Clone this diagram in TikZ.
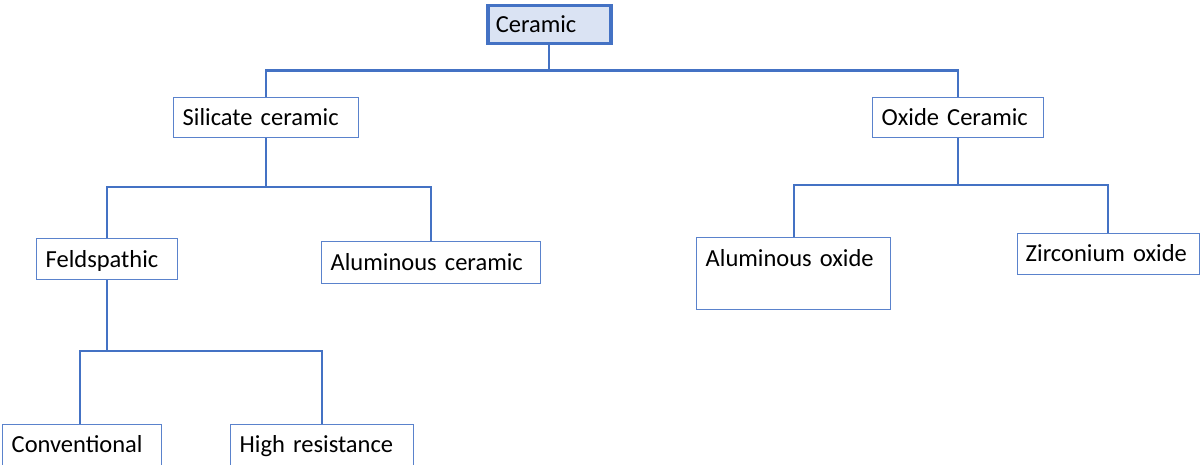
\documentclass[tikz,border=0pt]{standalone}
\usepackage{fontspec}
\setmainfont{Carlito}
\definecolor{linec}{HTML}{4472C4}
\definecolor{boxc}{HTML}{5A82CC}
\definecolor{fillc}{HTML}{DAE3F3}
\begin{document}
\begin{tikzpicture}[x=1pt,y=-1pt,
  box/.style={draw=boxc, line width=1.4pt, fill=white, anchor=north west,
    inner ysep=0pt, inner xsep=9pt, align=left, font=\fontsize{24.5}{28}\selectfont,
    text height=#1},
  box/.default=28pt,
  conn/.style={draw=linec, line width=2.4pt}]
\clip (0,0) rectangle (1200,465);
\useasboundingbox (0,0) rectangle (1200,465);
\fill[white] (0,0) rectangle (1200,465);
% nodes
\node[box=27pt, draw=linec, line width=3.5pt, fill=fillc, inner xsep=8pt, text width=107pt, text depth=11pt] (cer) at (486,4) {Ceramic};
\node[box, text width=167pt, text depth=12pt] (sil) at (173,97) {Silicate ceramic};
\node[box, text width=153pt, text depth=12pt] (oxi) at (872,97) {Oxide Ceramic};
\node[box=28.5pt, text width=123pt, text depth=12.5pt] (fel) at (36,238) {Feldspathic};
\node[box=29pt, text width=201pt, text depth=13pt] (alc) at (321,241) {Aluminous ceramic};
\node[box=29pt, text width=176pt, text depth=43pt] (aox) at (696,237) {Aluminous oxide};
\node[box=28pt, text width=166pt, text depth=13pt, inner xsep=8pt] (zir) at (1017,233) {Zirconium oxide};
\node[box=28pt, text width=141pt, text depth=17pt] (con) at (2,424) {Conventional};
\node[box=28pt, text width=165pt, text depth=17pt] (hig) at (230,424) {High resistance};
% connectors
\draw[conn] (cer.south) -- ++(0,25) coordinate (j1);
\draw[conn] (j1) -| (sil.north);
\draw[conn] (j1) -| (oxi.north);
\draw[conn] (sil.south) -- (sil.south |- 0,187) coordinate (j2);
\draw[conn] (j2) -| (fel.north);
\draw[conn] (j2) -| (alc.north);
\draw[conn] (oxi.south) -- (oxi.south |- 0,185) coordinate (j3);
\draw[conn] (j3) -| (aox.north);
\draw[conn] (j3) -| ([xshift=-1pt]zir.north);
\draw[conn] (fel.south) -- (fel.south |- 0,351) coordinate (j4);
\draw[conn] (j4) -| ([xshift=-2pt]con.north);
\draw[conn] (j4) -| (hig.north);
\end{tikzpicture}
\end{document}
